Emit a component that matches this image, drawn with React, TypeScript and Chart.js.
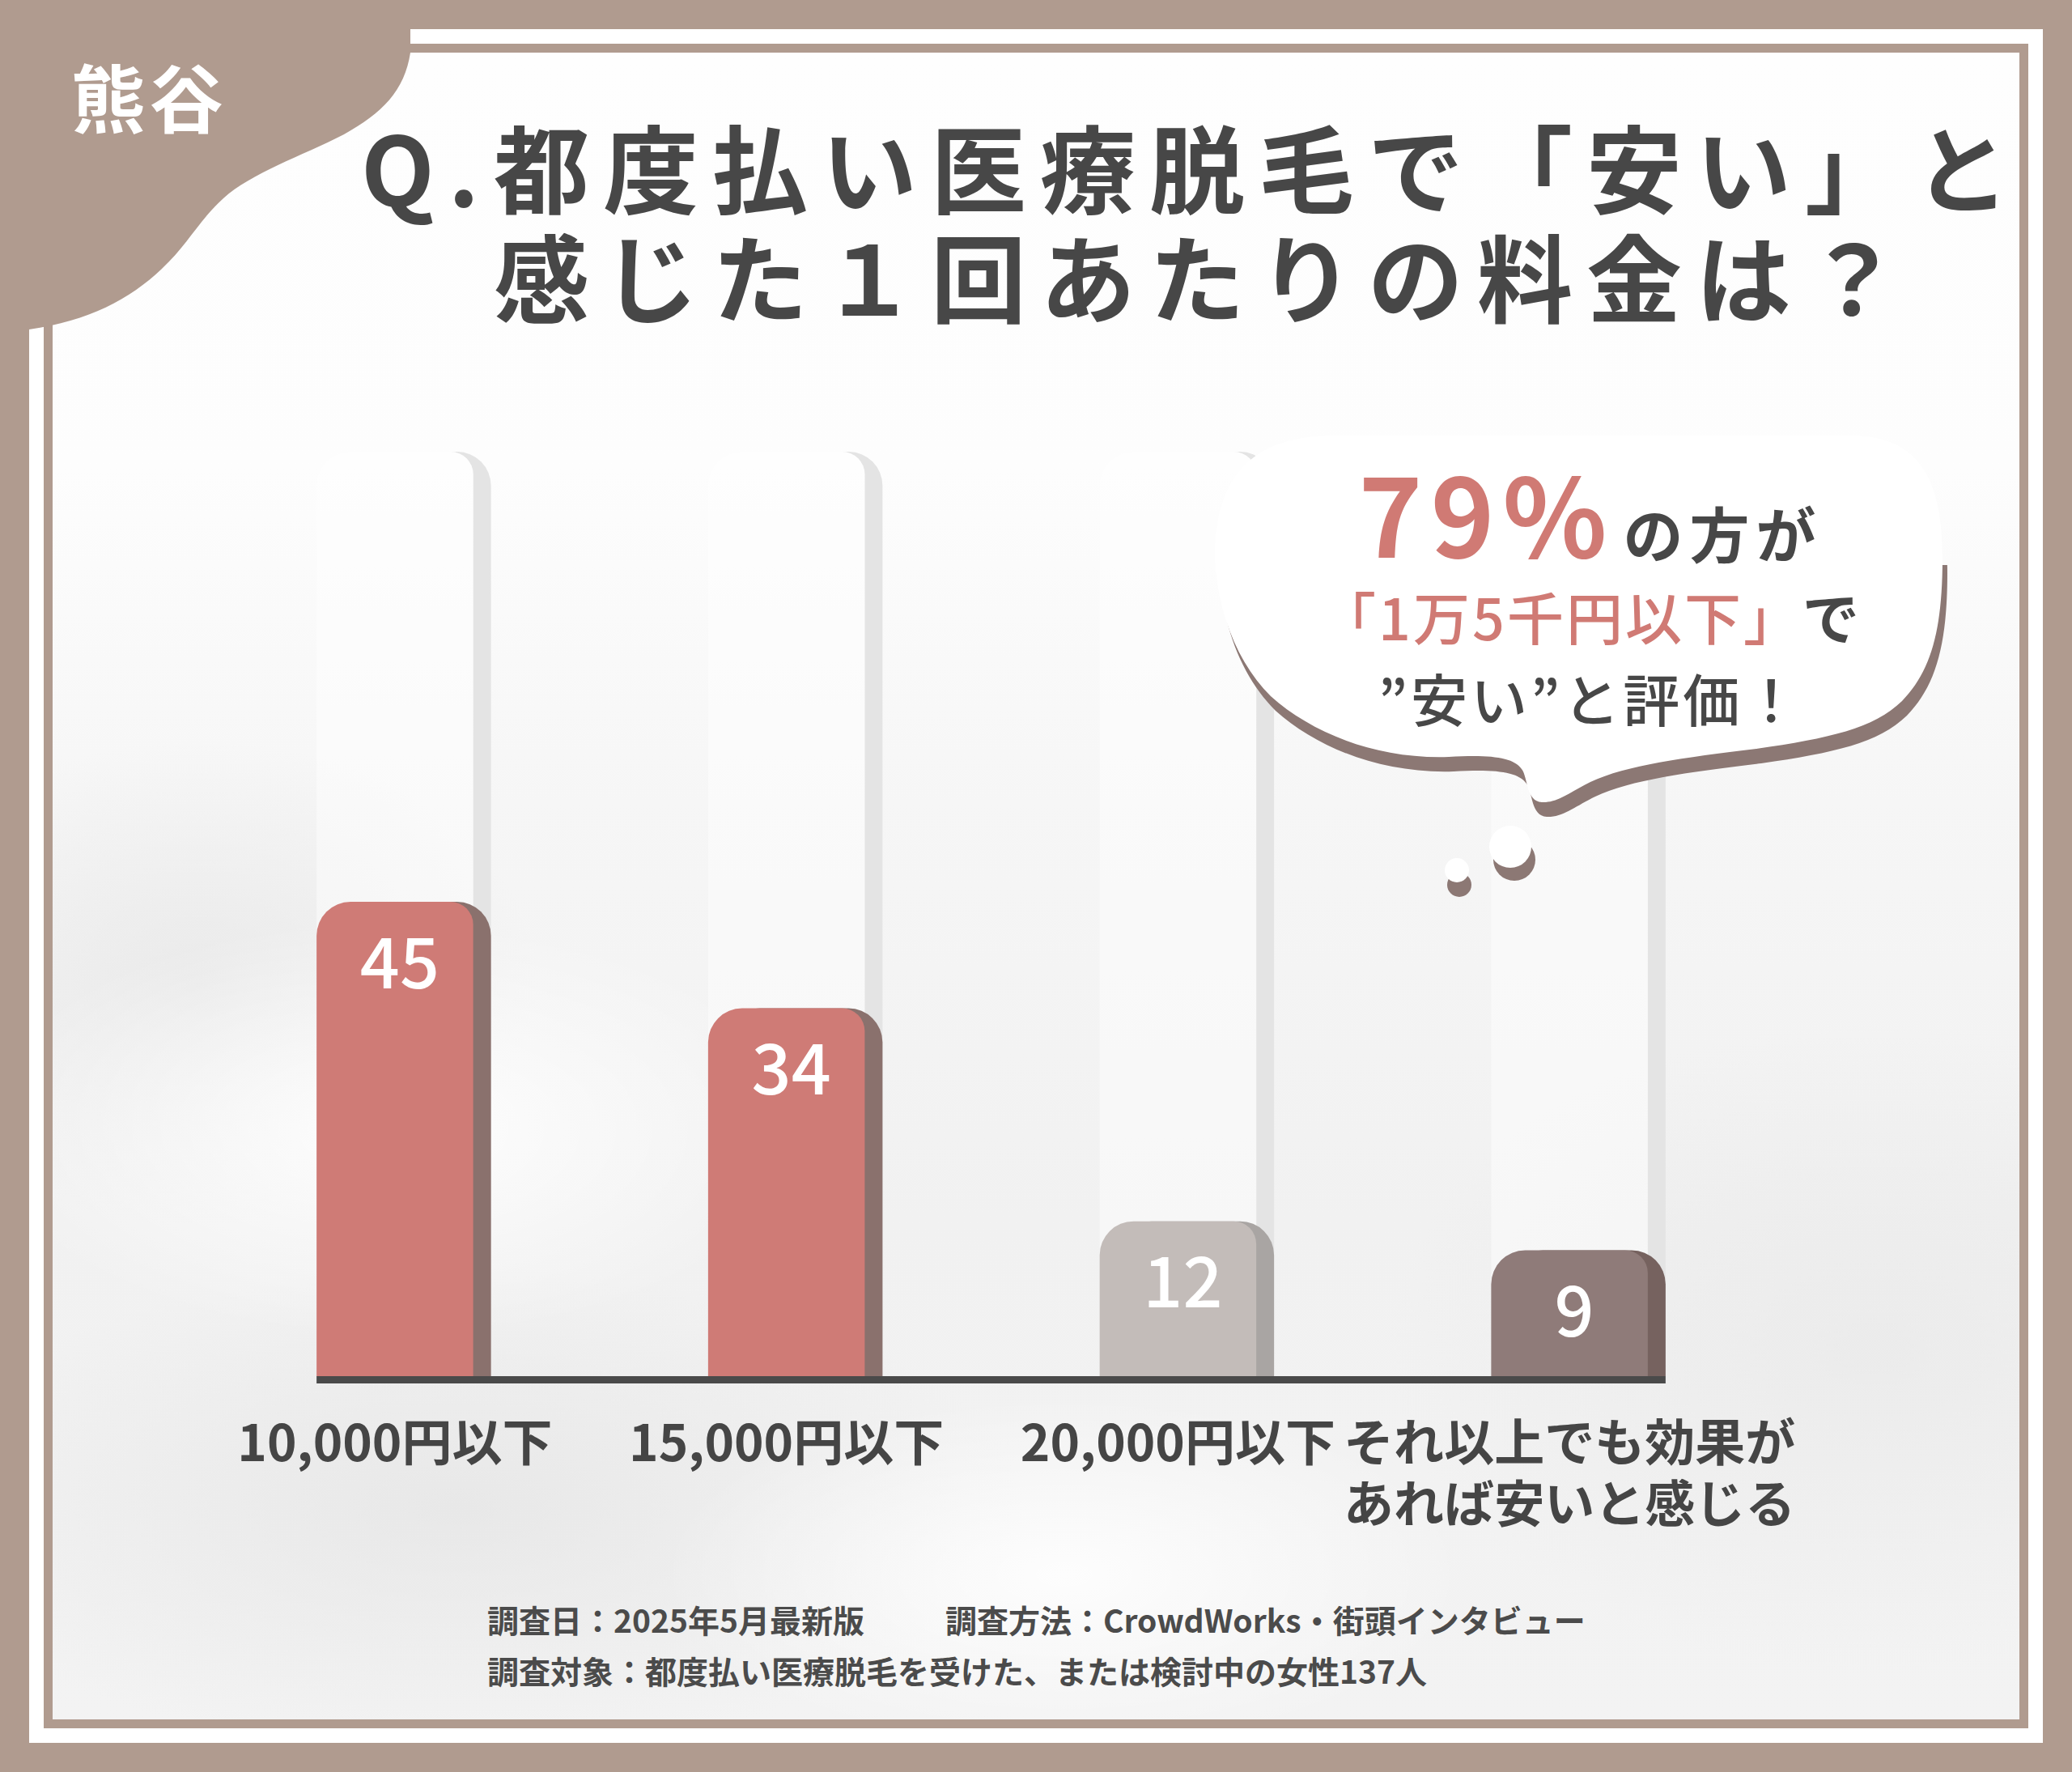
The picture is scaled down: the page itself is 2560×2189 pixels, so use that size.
import { useEffect, useRef } from "react"
import { Chart, registerables } from "chart.js"

Chart.register(...registerables)

// Survey data
const categories = [["10,000円以下"], ["15,000円以下"], ["20,000円以下"], ["それ以上でも効果が", "あれば安いと感じる"]]
const shares = [45, 34, 12, 9]

const faceColors = ["#cf7b76", "#cf7b76", "#c3bcb9", "#8f7b79"]
const sideColors = ["#8a716d", "#8a716d", "#a9a5a3", "#76625f"]

const FONT = '"Noto Sans CJK JP", "Noto Sans", sans-serif'
const BROWN = "#b09b8f"
const SIDE_W = 22
const RADIUS = 42

function topRounded(ctx: CanvasRenderingContext2D, l: number, t: number, r: number, b: number, rl: number, rr: number) {
  ctx.beginPath()
  ctx.moveTo(l, b)
  ctx.lineTo(l, t + rl)
  ctx.arcTo(l, t, l + rl, t, rl)
  ctx.lineTo(r - rr, t)
  ctx.arcTo(r, t, r, t + rr, rr)
  ctx.lineTo(r, b)
  ctx.closePath()
  ctx.fill()
}

const barDecor = {
  id: "barDecor",
  beforeDatasetsDraw(chart: any) {
    const { ctx, chartArea } = chart
    const meta = chart.getDatasetMeta(0)
    ctx.save()
    meta.data.forEach((bar: any, i: number) => {
      const { x, y, base, width } = bar.getProps(["x", "y", "base", "width"], true)
      const l = x - width / 2
      const r = x + width / 2
      // empty track behind each bar: only its right edge really shows
      ctx.fillStyle = "#e4e4e4"
      topRounded(ctx, l + SIDE_W, chartArea.top, r + SIDE_W, base, RADIUS, RADIUS)
      ctx.globalCompositeOperation = "destination-out"
      ctx.fillStyle = "#000"
      topRounded(ctx, l, chartArea.top, r, base, RADIUS, 28)
      ctx.globalCompositeOperation = "source-over"
      ctx.fillStyle = "rgba(255,255,255,0.45)"
      topRounded(ctx, l, chartArea.top, r, base, RADIUS, 28)
      // darker side of the bar
      ctx.fillStyle = sideColors[i]
      topRounded(ctx, l + SIDE_W, y, r + SIDE_W, base, RADIUS, RADIUS)
    })
    ctx.restore()
  },
  afterDatasetsDraw(chart: any) {
    const { ctx } = chart
    const meta = chart.getDatasetMeta(0)
    const first = meta.data[0].getProps(["x", "base", "width"], true)
    const last = meta.data[meta.data.length - 1].getProps(["x", "width"], true)
    ctx.save()
    ctx.fillStyle = "#4a4a4a"
    const left = first.x - first.width / 2
    ctx.fillRect(left, first.base, last.x + last.width / 2 + SIDE_W - left, 9)
    ctx.fillStyle = "#ffffff"
    ctx.font = `500 86px ${FONT}`
    ctx.textAlign = "center"
    ctx.textBaseline = "middle"
    meta.data.forEach((bar: any, i: number) => {
      const { x, y } = bar.getProps(["x", "y"], true)
      ctx.fillText(String(shares[i]), x + 6, y + 74)
    })
    ctx.restore()
  },
}

function SurveyChart() {
  const chartRef = useRef<HTMLCanvasElement>(null)
  const chartInstance = useRef<Chart | null>(null)

  useEffect(() => {
    if (!chartRef.current) return
    if (chartInstance.current) chartInstance.current.destroy()
    const ctx = chartRef.current.getContext("2d")
    if (!ctx) return

    chartInstance.current = new Chart(ctx, {
      type: "bar",
      data: {
        labels: categories,
        datasets: [
          {
            data: shares,
            base: -4,
            backgroundColor: faceColors,
            borderWidth: 0,
            borderRadius: { topLeft: RADIUS, topRight: 28, bottomLeft: 0, bottomRight: 0 },
            borderSkipped: "start",
            barPercentage: 0.4,
            categoryPercentage: 1,
          } as any,
        ],
      },
      options: {
        responsive: true,
        maintainAspectRatio: false,
        animation: false,
        layout: { padding: { left: 100, right: 100, top: 0, bottom: 0 } },
        plugins: { legend: { display: false }, tooltip: { enabled: false } },
        scales: {
          x: {
            grid: { display: false, drawTicks: false },
            border: { display: false },
            ticks: {
              color: "#454545",
              padding: 44,
              maxRotation: 0,
              autoSkip: false,
              font: { family: FONT, size: 62, weight: "bold", lineHeight: 1.22 },
            },
            afterFit: (scale: any) => {
              scale.height = 200
              scale.paddingLeft = 0
              scale.paddingRight = 0
            },
          },
          y: { display: false, min: -4, max: 91.5 },
        },
      },
      plugins: [barDecor],
    })

    return () => {
      if (chartInstance.current) {
        chartInstance.current.destroy()
        chartInstance.current = null
      }
    }
  }, [])

  return (
    <div style={{ position: "absolute", left: 146, top: 558, width: 2135, height: 1342 }}>
      <canvas ref={chartRef} />
    </div>
  )
}

const bubblePath =
  "M1501 690 C1501 590 1545 538 1650 538 L2290 538 C2370 540 2400 590 2400 690 C2400 780 2385 830 2350 866 " +
  "C2315 900 2260 912 2170 925 C2080 936 2010 945 1965 966 C1940 978 1925 992 1905 991 C1885 990 1888 960 1880 950 " +
  "C1870 935 1840 932 1790 935 C1700 938 1620 905 1570 860 C1530 820 1505 760 1501 690 Z"

export default function App() {
  useEffect(() => {
    document.body.style.margin = "0"
  }, [])

  const bg = [
    "radial-gradient(ellipse 520px 260px at 420px 1330px, rgba(255,255,255,0.9), rgba(255,255,255,0))",
    "radial-gradient(ellipse 500px 220px at 1250px 1880px, rgba(255,255,255,0.85), rgba(255,255,255,0))",
    "radial-gradient(ellipse 420px 300px at 180px 1150px, rgba(224,224,224,0.5), rgba(224,224,224,0))",
    "radial-gradient(ellipse 700px 300px at 500px 1800px, rgba(222,222,222,0.5), rgba(222,222,222,0))",
    "radial-gradient(ellipse 600px 400px at 2250px 1600px, rgba(228,228,228,0.45), rgba(228,228,228,0))",
    "linear-gradient(180deg, #fefefe 0%, #fdfdfd 25%, #f6f6f6 45%, #f1f1f1 70%, #f3f3f3 100%)",
  ].join(", ")

  return (
    <div
      style={{
        position: "relative",
        width: 2560,
        height: 2189,
        background: BROWN,
        overflow: "hidden",
        fontFamily: FONT,
      }}
    >
      <div style={{ position: "absolute", left: 36, top: 36, width: 2488, height: 2117, background: "#ffffff" }} />
      <div style={{ position: "absolute", left: 54, top: 54, width: 2452, height: 2081, background: BROWN }} />
      <div style={{ position: "absolute", left: 65, top: 65, width: 2430, height: 2059, background: bg }} />

      <svg width={560} height={420} style={{ position: "absolute", left: 0, top: 0 }}>
        <path
          d="M0 0 H507 V65 C500 112 472 140 425 166 C372 193 310 214 276 245 C246 272 232 302 200 332 C160 370 110 396 36 407 H0 Z"
          fill={BROWN}
        />
      </svg>
      <div
        style={{
          position: "absolute",
          left: 88,
          top: 71,
          fontSize: 92,
          lineHeight: "92px",
          fontWeight: 700,
          color: "#ffffff",
          letterSpacing: 4,
          whiteSpace: "nowrap",
        }}
      >
        熊谷
      </div>

      <div
        style={{
          position: "absolute",
          left: 446,
          top: 136,
          fontSize: 118,
          lineHeight: "135px",
          fontWeight: 700,
          color: "#474747",
          letterSpacing: 17,
          whiteSpace: "nowrap",
        }}
      >
        <div>
          <span style={{ display: "inline-block", width: 164 }}>Q.</span>
          都度払い医療脱毛で「安い」と
        </div>
        <div style={{ paddingLeft: 164 }}>感じた１回あたりの料金は？</div>
      </div>

      <SurveyChart />

      <svg width={2560} height={1200} style={{ position: "absolute", left: 0, top: 0 }}>
        <defs>
          <clipPath id="shadowClip">
            <rect x={0} y={680} width={2560} height={520} />
          </clipPath>
        </defs>
        <path d={bubblePath} fill="#8c7874" transform="translate(6 18)" clipPath="url(#shadowClip)" />
        <path d={bubblePath} fill="#ffffff" />
        <circle cx={1871} cy={1062} r={26} fill="#8c7874" />
        <circle cx={1866} cy={1046} r={26} fill="#ffffff" />
        <circle cx={1803} cy={1093} r={15} fill="#8c7874" />
        <circle cx={1800} cy={1075} r={15} fill="#ffffff" />
      </svg>

      <div
        style={{
          position: "absolute",
          left: 1500,
          width: 930,
          top: 564,
          textAlign: "center",
          fontWeight: 700,
          whiteSpace: "nowrap",
          color: "#474747",
        }}
      >
        <div style={{ fontSize: 134, lineHeight: "134px", height: 134 }}>
          <span style={{ color: "#d07a74", letterSpacing: 10 }}>79%</span>
          <span style={{ fontSize: 74, letterSpacing: 8, marginLeft: 10 }}>の方が</span>
        </div>
        <div style={{ fontSize: 70, lineHeight: "70px", height: 70, marginTop: 28, letterSpacing: 3 }}>
          <span style={{ color: "#d07a74", fontWeight: 500 }}>「1万5千円以下」</span>
          <span>で</span>
        </div>
        <div style={{ fontSize: 70, lineHeight: "70px", height: 70, marginTop: 31, letterSpacing: 4, fontWeight: 500 }}>
          ”安い”と評価！
        </div>
      </div>

      <div
        style={{
          position: "absolute",
          left: 602,
          top: 1981,
          fontSize: 39,
          lineHeight: "39px",
          fontWeight: 700,
          color: "#4b4b4b",
          whiteSpace: "nowrap",
        }}
      >
        <div style={{ position: "relative", height: 39 }}>
          <span>調査日：2025年5月最新版</span>
          <span style={{ position: "absolute", left: 566 }}>調査方法：CrowdWorks・街頭インタビュー</span>
        </div>
        <div style={{ marginTop: 24 }}>調査対象：都度払い医療脱毛を受けた、または検討中の女性137人</div>
      </div>
    </div>
  )
}
